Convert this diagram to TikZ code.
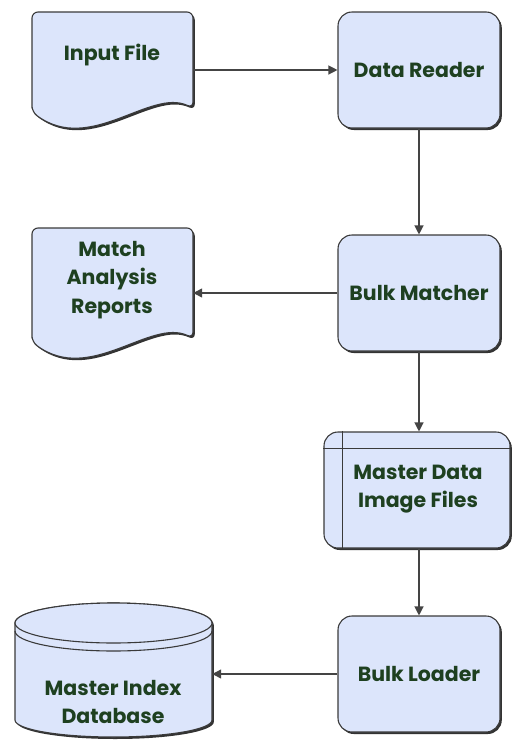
\documentclass[tikz,border=0pt]{standalone}
\usepackage{fontspec}
\setmainfont{Poppins}
\usetikzlibrary{shadows,arrows.meta}
\definecolor{boxfill}{HTML}{DCE5FB}
\definecolor{boxline}{HTML}{3A3A3A}
\definecolor{txtc}{HTML}{1E4020}
\definecolor{arrc}{HTML}{444444}
\tikzset{
  shp/.style={fill=boxfill, draw=boxline, line width=1.1pt,
    drop shadow={shadow xshift=1.8pt, shadow yshift=-2pt, fill=black!80, opacity=1}},
  proc/.style={shp, rectangle, rounded corners=14pt, minimum width=162pt, minimum height=116pt, inner sep=0pt},
  lbl/.style={text=txtc, font=\fontsize{20.5}{28.5}\selectfont\bfseries, align=center, inner sep=0pt},
  anch/.style={rectangle, inner sep=0pt, draw=none},
  arr/.style={draw=arrc, line width=1.2pt, -{Triangle[length=9pt,width=9pt]}},
}
\begin{document}
\begin{tikzpicture}[x=1pt,y=-1pt]
\useasboundingbox (0,0) rectangle (512,742);
% Input File document
\draw[shp, rounded corners=6pt] (32,112) -- (32,12) -- (193,12) -- (193,108)
  .. controls (150,88) and (90,155) .. (32,112) -- cycle;
\node[anch, minimum width=161pt, minimum height=96pt] (inp) at (112.5,60) {};
\node[lbl] (inpt) at (112,55) {Input File};
% Data Reader
\node[proc, label={[lbl]center:Data Reader}] (dr) at (419,70) {};
% Bulk Matcher
\node[proc, label={[lbl]center:Bulk Matcher}] (bm) at (419,293) {};
% Match Analysis Reports document
\draw[shp, rounded corners=6pt] (32,342) -- (32,228) -- (193,228) -- (193,338)
  .. controls (150,318) and (90,385) .. (32,342) -- cycle;
\node[anch, minimum width=161pt, minimum height=110pt] (mar) at (112.5,283) {};
\node[lbl] (mart) at (112,280) {Match\\Analysis\\Reports};
% Master Data Image Files
\node[shp, rectangle, rounded corners=14pt, minimum width=186pt, minimum height=116pt, inner sep=0pt] (md) at (417,490) {};
\draw[draw=boxline, line width=1.1pt] ([xshift=19pt]md.north west) -- ([xshift=19pt]md.south west);
\draw[draw=boxline, line width=1.1pt] ([yshift=-17pt]md.north west) -- ([yshift=-17pt]md.north east);
\node[lbl] (mdt) at (418,489) {Master Data\\Image Files};
% Bulk Loader
\node[proc, label={[lbl]center:Bulk Loader}] (bl) at (419,674) {};
% Master Index Database cylinder
\draw[shp] (15,623) -- (15,720) arc[start angle=180, end angle=0, x radius=98.5, y radius=17]
  -- (212,623) arc[start angle=0, end angle=-180, x radius=98.5, y radius=20] -- cycle;
\draw[fill=boxfill, draw=boxline, line width=1.1pt] (113.5,623) ellipse[x radius=98.5, y radius=20];
\draw[draw=boxline, line width=1.1pt] (15,631) arc[start angle=180, end angle=0, x radius=98.5, y radius=20];
\node[anch, minimum width=197pt, minimum height=100pt] (mid) at (113.5,672) {};
\node[lbl] (midt) at (113,702) {Master Index\\Database};
% connectors
\draw[arr] (inp.east |- dr.west) -- (dr.west);
\draw[arr] (dr.south) -- (bm.north);
\draw[arr] (bm.west) -- (bm.west -| mar.east);
\draw[arr] (bm.south) -- (bm.south |- md.north);
\draw[arr] (md.south -| bl.north) -- (bl.north);
\draw[arr] (bl.west) -- (bl.west -| mid.east);
\end{tikzpicture}
\end{document}
